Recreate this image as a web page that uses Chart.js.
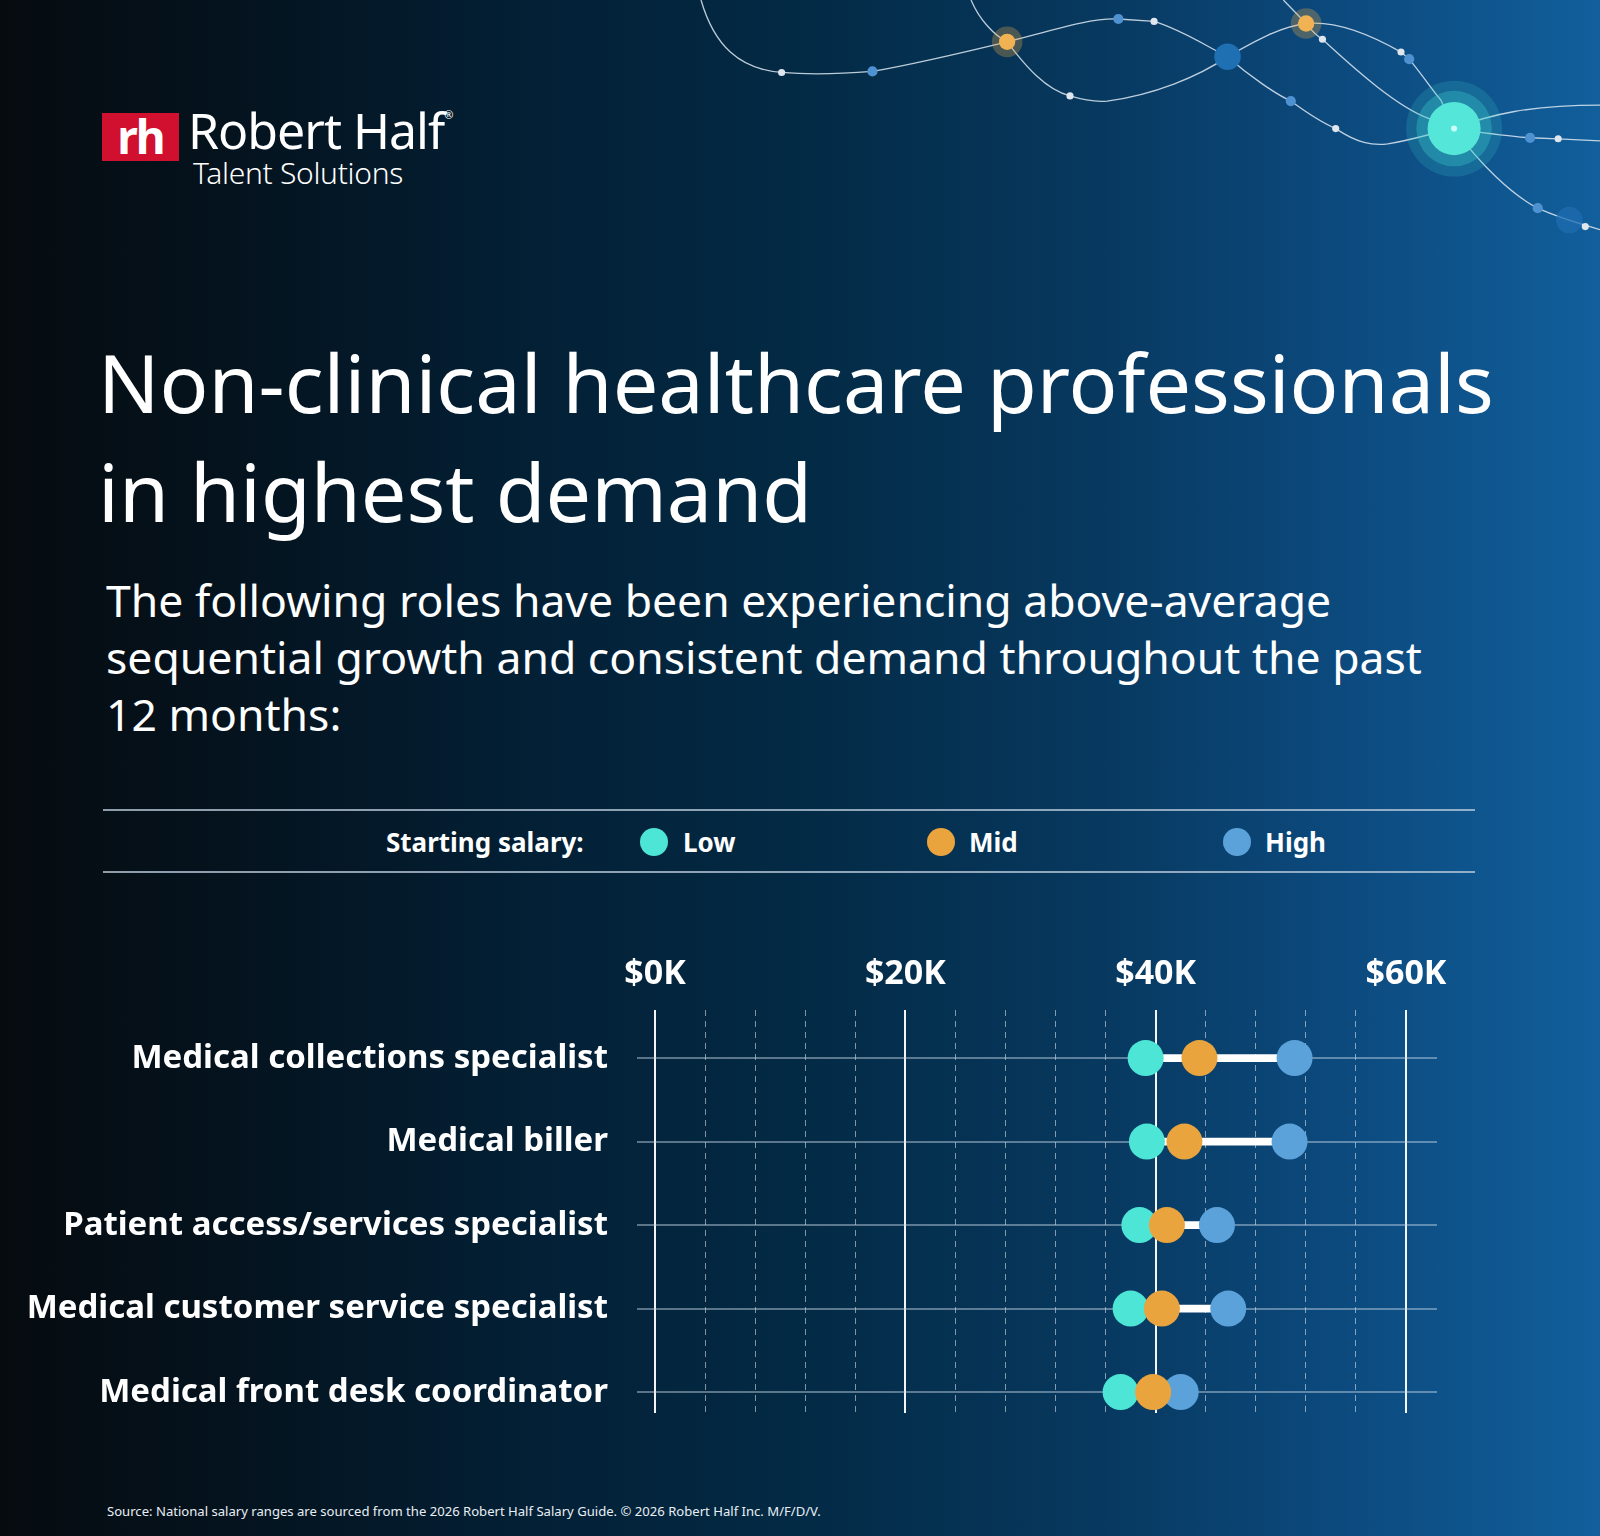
<!DOCTYPE html>
<html>
<head>
<meta charset="utf-8">
<script src="https://cdn.jsdelivr.net/npm/chart.js@4.4.1/dist/chart.umd.min.js"></script>
<style>
  html, body { margin: 0; padding: 0; }
  body {
    width: 1600px; height: 1536px; overflow: hidden; position: relative;
    font-family: 'Noto Sans', sans-serif; color: #fff;
    background: linear-gradient(90deg, #060b0f 0%, #041522 18%, #031f34 32%, #032a45 50%, #07385e 68%, #0c4a7e 84%, #115f9c 100%);
  }
  .abs { position: absolute; white-space: nowrap; }
  #deco { position: absolute; left: 0; top: 0; width: 1600px; height: 1536px; }
  .logo-box { left: 102px; top: 113px; width: 77px; height: 48px; background: #d0102e;
    font-weight: 700; font-size: 46px; line-height: 46px; text-align: center; letter-spacing: -2px; }
  .brand { left: 188px; top: 105px; font-size: 50px; line-height: 1; letter-spacing: -1px; }
  .sub-brand { left: 193px; top: 158px; font-size: 30px; line-height: 1; font-weight: 300; letter-spacing: -0.3px; }
  .title { left: 98px; top: 327px; font-size: 81px; line-height: 109px; }
  .lead { left: 106px; top: 571px; font-size: 44.5px; line-height: 57px; }
  .rule { left: 103px; width: 1372px; height: 2px; background: rgba(190,205,222,0.75); }
  .legend { top: 826px; font-size: 26px; font-weight: 700; line-height: 32px; }
  .dot { width: 28px; height: 28px; border-radius: 50%; top: 828px; }
  .source { left: 107px; top: 1502px; font-size: 13.1px; line-height: 18px; color: #e8eef4; }
  #chartWrap { position: absolute; left: 0; top: 900px; width: 1600px; height: 540px; }
</style>
</head>
<body>
<svg id="deco" viewBox="0 0 1568 1505" preserveAspectRatio="none">
  <g fill="none" stroke="rgba(220,232,242,0.85)" stroke-width="1.3">
    <path d="M687,0 C700,45 725,68 766,71 C800,74 830,72 855,70 C900,62 950,50 987,41 C1030,30 1070,17 1096,18.6 L1131,21 C1160,30 1185,47 1203,55.5 C1230,40 1255,26 1280,23"/>
    <path d="M951.6,0 C960,20 975,35 987,41 C1005,65 1025,88 1048.6,94 C1065,99 1075,100 1085,99 C1130,93 1175,75 1203,55.5"/>
    <path d="M1203,55.5 C1225,75 1250,92 1265,99 C1280,110 1295,120 1309,126 C1330,140 1345,143 1360,141 C1385,137 1405,130 1425,126"/>
    <path d="M1257.7,0 L1280,23"/>
    <path d="M1280,23 C1285,30 1292,36 1296,38.5 C1330,70 1370,105 1400,116 L1425,126"/>
    <path d="M1280,23 C1310,20 1345,35 1373,51 L1381,58 C1395,75 1405,90 1412,98 L1425,126"/>
    <path d="M1425,126 C1460,112 1500,103 1568,103"/>
    <path d="M1425,126 C1460,131 1480,134 1499.5,135 L1527,136 L1568,138"/>
    <path d="M1425,126 C1450,160 1480,190 1507,204 C1520,210 1540,217 1568,225"/>
  </g>
  <g fill="#dfe6ee">
    <circle cx="766" cy="71" r="3.5"/><circle cx="1131" cy="21" r="3.5"/><circle cx="1048.6" cy="94" r="3.5"/>
    <circle cx="1296" cy="38.5" r="3.5"/><circle cx="1309" cy="126" r="3.5"/><circle cx="1373" cy="51" r="3.5"/>
    <circle cx="1527" cy="136" r="3.5"/><circle cx="1553.6" cy="222" r="3.5"/>
  </g>
  <g fill="#4f92d2">
    <circle cx="855" cy="70" r="5"/><circle cx="1096" cy="18.6" r="5"/><circle cx="1265" cy="99" r="5"/>
    <circle cx="1381" cy="58" r="5"/><circle cx="1499.5" cy="135" r="5"/><circle cx="1507" cy="204" r="5"/>
  </g>
  <circle cx="1203" cy="55.5" r="13" fill="#1f6fb3"/>
  <circle cx="1538" cy="215.6" r="13" fill="#1d6cb0" opacity="0.75"/>
  <circle cx="987" cy="41" r="15" fill="#e8a84a" opacity="0.3"/>
  <circle cx="987" cy="41" r="8" fill="#f0b252"/>
  <circle cx="1280" cy="23" r="15" fill="#e8a84a" opacity="0.3"/>
  <circle cx="1280" cy="23" r="8" fill="#f0b252"/>
  <circle cx="1425" cy="126" r="47" fill="#3fd0cf" opacity="0.18"/>
  <circle cx="1425" cy="126" r="37" fill="#3fd0cf" opacity="0.32"/>
  <circle cx="1425" cy="126" r="26" fill="#55e6da"/>
  <circle cx="1425" cy="126" r="3" fill="#c8fff8"/>
</svg>

<div class="abs logo-box">rh</div>
<div class="abs brand">Robert Half<sup style="font-size:11px;vertical-align:30px;letter-spacing:0">®</sup></div>
<div class="abs sub-brand">Talent Solutions</div>

<div class="abs title">Non-clinical healthcare professionals<br>in highest demand</div>
<div class="abs lead">The following roles have been experiencing above-average<br>sequential growth and consistent demand throughout the past<br>12 months:</div>

<div class="abs rule" style="top:809px"></div>
<div class="abs rule" style="top:871px"></div>
<div class="abs legend" style="left:386px">Starting salary:</div>
<div class="abs dot" style="left:640px;background:#4de6d6"></div>
<div class="abs legend" style="left:683px">Low</div>
<div class="abs dot" style="left:927px;background:#eaa43e"></div>
<div class="abs legend" style="left:969px">Mid</div>
<div class="abs dot" style="left:1223px;background:#5ba2da"></div>
<div class="abs legend" style="left:1265px">High</div>

<div id="chartWrap"><canvas id="salaryChart"></canvas></div>

<div class="abs source">Source: National salary ranges are sourced from the 2026 Robert Half Salary Guide. © 2026 Robert Half Inc. M/F/D/V.</div>

<script>
const roles = [
  "Medical collections specialist",
  "Medical biller",
  "Patient access/services specialist",
  "Medical customer service specialist",
  "Medical front desk coordinator"
];
const lowSalary = [39200, 39300, 38700, 38000, 37200];
const midSalary = [43500, 42300, 40900, 40500, 39800];
const highSalary = [51100, 50700, 44900, 45800, 42000];

const majorTicks = [0, 20000, 40000, 60000];
const tickLabels = ["$0K", "$20K", "$40K", "$60K"];
const minorStep = 4000;

const LOW = "#4de6d6", MID = "#eaa43e", HIGH = "#5ba2da";

function points(values) {
  return values.map(function (v, i) { return { x: v, y: i }; });
}
function isMajor(v) { return majorTicks.indexOf(v) >= 0; }
function noPadding(axis) {
  axis.paddingTop = 0; axis.paddingBottom = 0;
  axis.paddingLeft = 0; axis.paddingRight = 0;
}

const ctx = document.getElementById("salaryChart").getContext("2d");
const salaryChart = new Chart(ctx, {
  type: "bar",
  data: {
    datasets: [
      {
        type: "scatter", label: "Low", data: points(lowSalary), order: 1,
        backgroundColor: LOW, borderWidth: 0, pointRadius: 18, pointHoverRadius: 18
      },
      {
        type: "scatter", label: "Mid", data: points(midSalary), order: 0,
        backgroundColor: MID, borderWidth: 0, pointRadius: 18, pointHoverRadius: 18
      },
      {
        type: "scatter", label: "High", data: points(highSalary), order: 2,
        backgroundColor: HIGH, borderWidth: 0, pointRadius: 18, pointHoverRadius: 18
      },
      {
        type: "bar", label: "Range", order: 3,
        data: lowSalary.map(function (v, i) { return { x: [v, highSalary[i]], y: i }; }),
        backgroundColor: "#ffffff", borderWidth: 0, borderSkipped: false, barThickness: 7
      }
    ]
  },
  options: {
    indexAxis: "y",
    responsive: true,
    maintainAspectRatio: false,
    animation: false,
    events: [],
    layout: { padding: { left: 0, top: 0, right: 163, bottom: 27 } },
    plugins: { legend: { display: false }, tooltip: { enabled: false } },
    scales: {
      x: {
        type: "linear",
        position: "top",
        min: -1440,
        max: 62480,
        offset: false,
        afterBuildTicks: function (axis) {
          const t = [];
          for (let v = 0; v <= 60000; v += minorStep) t.push({ value: v });
          axis.ticks = t;
        },
        afterFit: function (axis) { axis.height = 110; noPadding(axis); },
        ticks: {
          color: "#ffffff",
          padding: 15,
          maxRotation: 0,
          autoSkip: false,
          font: { family: "'Noto Sans'", size: 34, weight: "bold" },
          callback: function (value) {
            const k = majorTicks.indexOf(value);
            return k >= 0 ? tickLabels[k] : "";
          }
        },
        grid: {
          offset: false,
          drawTicks: false,
          color: function (c) { return c.tick && isMajor(c.tick.value) ? "rgba(255,255,255,0.95)" : "rgba(255,255,255,0.5)"; },
          lineWidth: function (c) { return c.tick && isMajor(c.tick.value) ? 2 : 1; }
        },
        border: {
          display: false,
          dash: function (c) { return c.tick && isMajor(c.tick.value) ? [] : [6, 5]; }
        }
      },
      y: {
        type: "linear",
        reverse: true,
        offset: false,
        min: -0.576,
        max: 4.25,
        afterBuildTicks: function (axis) {
          axis.ticks = roles.map(function (r, i) { return { value: i }; });
        },
        afterFit: function (axis) { axis.width = 637; noPadding(axis); },
        ticks: {
          color: "#ffffff",
          padding: 29,
          autoSkip: false,
          font: { family: "'Noto Sans'", size: 33, weight: "bold" },
          callback: function (value) { return roles[value]; }
        },
        grid: {
          offset: false,
          drawTicks: false,
          color: "rgba(200,215,230,0.45)",
          lineWidth: 2
        },
        border: { display: false }
      }
    }
  }
});
</script>
</body>
</html>
